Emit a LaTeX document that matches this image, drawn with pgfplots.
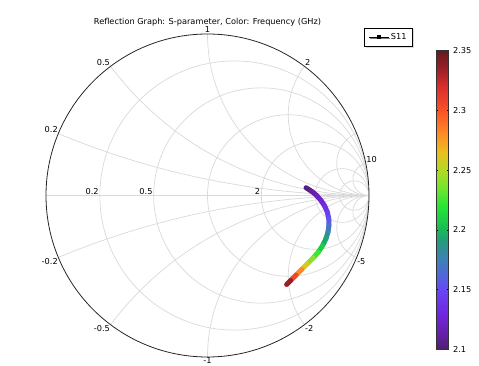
\documentclass[border=0pt]{standalone}
\usepackage{fontspec}
\setmainfont{DejaVu Sans}
\usepackage{pgfplots}
\usepackage{pgfplotstable}
\pgfplotsset{compat=1.18}
\usetikzlibrary{shadows}
\definecolor{gridc}{gray}{0.85}
\pgfplotstableread{
x y f
0.610 0.048 2.100
0.645 0.026 2.108
0.676 0.000 2.116
0.703 -0.031 2.124
0.726 -0.066 2.132
0.742 -0.103 2.140
0.751 -0.144 2.150
0.752 -0.186 2.162
0.746 -0.227 2.175
0.734 -0.266 2.188
0.713 -0.310 2.202
0.686 -0.351 2.216
0.655 -0.386 2.232
0.618 -0.423 2.250
0.583 -0.458 2.270
0.548 -0.493 2.292
0.515 -0.526 2.320
0.490 -0.551 2.350
}\sdata
\begin{document}
\begin{tikzpicture}[x=1pt,y=1pt]
\path[use as bounding box] (0,0) rectangle (479,366);
\begin{axis}[
  at={(207.5pt,170.5pt)}, anchor=center,
  width=323pt, height=323pt, scale only axis,
  xmin=-1, xmax=1, ymin=-1, ymax=1,
  hide axis, clip=false,
  font=\fontsize{8.2}{9}\selectfont,
  colormap={cmsl}{
    rgb(0pt)=(0.29,0.13,0.42);
    rgb(4pt)=(0.38,0.12,0.62);
    rgb(12pt)=(0.45,0.15,0.88);
    rgb(20pt)=(0.40,0.28,0.95);
    rgb(24pt)=(0.33,0.38,0.88);
    rgb(30pt)=(0.25,0.50,0.72);
    rgb(36pt)=(0.15,0.60,0.50);
    rgb(40pt)=(0.10,0.72,0.35);
    rgb(48pt)=(0.15,0.90,0.20);
    rgb(54pt)=(0.45,0.90,0.18);
    rgb(60pt)=(0.70,0.85,0.15);
    rgb(66pt)=(0.92,0.75,0.12);
    rgb(72pt)=(1.00,0.55,0.15);
    rgb(80pt)=(0.98,0.32,0.15);
    rgb(88pt)=(0.85,0.18,0.18);
    rgb(94pt)=(0.60,0.13,0.15);
    rgb(100pt)=(0.40,0.10,0.13)
  },
  point meta min=2.1, point meta max=2.35,
  colorbar,
  colorbar style={
    at={(parent axis.north east)}, anchor=north west,
    xshift=58.5pt, yshift=-16.5pt,
    width=12.5pt, height=299pt,
    ytick={2.1,2.15,2.2,2.25,2.3,2.35},
    yticklabels={2.1,2.15,2.2,2.25,2.3,2.35},
    yticklabel style={font=\fontsize{8.2}{9}\selectfont, xshift=1pt},
    major tick length=2pt,
    tick style={black, line width=0.5pt},
    axis line style={black!80, line width=0.5pt},
  },
  legend style={
    at={(1.136,1.020)}, anchor=north east,
    draw=black, fill=white, line width=0.6pt,
    drop shadow={shadow xshift=1.2pt, shadow yshift=-1.2pt, fill=gray!55},
    font=\fontsize{8.2}{9}\selectfont,
    inner xsep=4pt, inner ysep=3.5pt,
  },
  legend cell align=left,
  legend image code/.code={
    \draw[mark repeat=2, mark phase=2, #1] plot coordinates {(0pt,0pt) (10pt,0pt) (20pt,0pt)};
  },
]
\begin{scope}
\clip (axis cs:0,0) circle[radius=1];
\draw[gridc, line width=0.7pt] (axis cs:-1,0) -- (axis cs:1,0);
% resistance circles
\draw[gridc, line width=0.7pt] (axis cs:0.166667,0) circle[radius=0.833333];
\draw[gridc, line width=0.7pt] (axis cs:0.333333,0) circle[radius=0.666667];
\draw[gridc, line width=0.7pt] (axis cs:0.5,0) circle[radius=0.5];
\draw[gridc, line width=0.7pt] (axis cs:0.666667,0) circle[radius=0.333333];
\draw[gridc, line width=0.7pt] (axis cs:0.833333,0) circle[radius=0.166667];
\draw[gridc, line width=0.7pt] (axis cs:0.909091,0) circle[radius=0.090909];
% reactance arcs
\draw[gridc, line width=0.7pt] (axis cs:1,5) circle[radius=5];
\draw[gridc, line width=0.7pt] (axis cs:1,-5) circle[radius=5];
\draw[gridc, line width=0.7pt] (axis cs:1,2) circle[radius=2];
\draw[gridc, line width=0.7pt] (axis cs:1,-2) circle[radius=2];
\draw[gridc, line width=0.7pt] (axis cs:1,1) circle[radius=1];
\draw[gridc, line width=0.7pt] (axis cs:1,-1) circle[radius=1];
\draw[gridc, line width=0.7pt] (axis cs:1,0.5) circle[radius=0.5];
\draw[gridc, line width=0.7pt] (axis cs:1,-0.5) circle[radius=0.5];
\draw[gridc, line width=0.7pt] (axis cs:1,0.2) circle[radius=0.2];
\draw[gridc, line width=0.7pt] (axis cs:1,-0.2) circle[radius=0.2];
\draw[gridc, line width=0.7pt] (axis cs:1,0.1) circle[radius=0.1];
\draw[gridc, line width=0.7pt] (axis cs:1,-0.1) circle[radius=0.1];
\end{scope}
\draw[black!85, line width=0.8pt] (axis cs:0,0) circle[radius=1];
% title
\node[anchor=base, font=\fontsize{8.2}{9}\selectfont] at (axis cs:0,1) [yshift=9pt] {Reflection Graph: S-parameter, Color: Frequency (GHz)};
% reactance labels
\node[anchor=south, inner sep=0.8pt] at (axis cs:0,1) {1};
\node[anchor=south east, inner sep=0.5pt] at (axis cs:-0.6,0.8) {0.5};
\node[anchor=south west, inner sep=0.5pt] at (axis cs:0.6,0.8) {2};
\node[anchor=south east, inner sep=0.5pt] at (axis cs:-0.923,0.385) {0.2};
\node[anchor=south west, inner sep=0.5pt] at (axis cs:0.980,0.198) {10};
\node[anchor=north east, inner sep=0.5pt] at (axis cs:-0.923,-0.385) {-0.2};
\node[anchor=north east, inner sep=0.5pt] at (axis cs:-0.6,-0.8) {-0.5};
\node[anchor=north, inner sep=0.5pt] at (axis cs:0,-1) {-1};
\node[anchor=north west, inner sep=0.5pt] at (axis cs:0.6,-0.8) {-2};
\node[anchor=north west, inner sep=0.5pt] at (axis cs:0.923,-0.385) {-5};
% resistance labels
\node[anchor=south east, inner sep=1pt] at (axis cs:-0.666667,0) {0.2};
\node[anchor=south east, inner sep=1pt] at (axis cs:-0.333333,0) {0.5};
\node[anchor=south east, inner sep=1pt] at (axis cs:0.333333,0) {2};
% data
\addplot[mesh, point meta=\thisrow{f}, line width=5pt, line cap=round, line join=round, forget plot] table[x=x, y=y] {\sdata};
\addlegendimage{black, line width=0.6pt, mark=square*, mark size=1.5pt, mark options={solid, fill=black}}
\addlegendentry{S11}
\end{axis}
\end{tikzpicture}
\end{document}
